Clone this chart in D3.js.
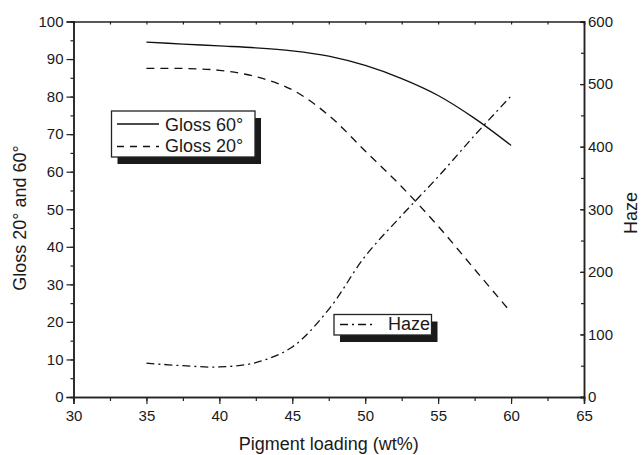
<!DOCTYPE html>
<html>
<head>
<meta charset="utf-8">
<script src="https://cdn.jsdelivr.net/npm/d3@7"></script>
<style>
  html, body { margin: 0; padding: 0; background: #fff; }
  svg { display: block; font-family: "Liberation Sans", Arial, sans-serif; }
  text { fill: #1a1a1a; }
</style>
</head>
<body>
<svg id="chart" width="642" height="455"></svg>
<script>
// ---- data ----
const loading = [35, 37.5, 40, 42.5, 45, 47.5, 50, 52.5, 55, 57.5, 60];
const gloss60 = [94.5, 94.0, 93.5, 93.0, 92.2, 90.8, 88.3, 84.8, 80.3, 74.2, 67.0];
const gloss20 = [87.5, 87.5, 87.0, 85.3, 81.8, 75.0, 65.5, 56.0, 45.5, 34.0, 22.5];
const haze    = [54, 50, 48, 55, 80, 140, 225, 290, 352, 418, 481];
const xTicks = [30, 35, 40, 45, 50, 55, 60, 65];
const yLeftTicks = [0, 10, 20, 30, 40, 50, 60, 70, 80, 90, 100];
const yRightTicks = [0, 100, 200, 300, 400, 500, 600];

const svg = d3.select("#chart");
const L = 73.5, R = 584, T = 21.5, B = 397;

const x = d3.scaleLinear().domain([30, 65]).range([L, R]);
const yL = d3.scaleLinear().domain([0, 100]).range([B, T]);
const yR = d3.scaleLinear().domain([0, 600]).range([B, T]);

const axisColor = "#222";

// minor tick helpers
const xMinor = d3.range(30, 65.01, 2.5);
const yLMinor = d3.range(0, 100.01, 5);
const yRMinor = d3.range(0, 600.01, 50);

// bottom axis
svg.append("g").attr("transform", `translate(0,${B})`)
  .call(d3.axisBottom(x).tickValues(xTicks).tickSize(7).tickPadding(6).tickFormat(d3.format("d")));
svg.append("g").attr("transform", `translate(0,${B})`)
  .call(d3.axisBottom(x).tickValues(xMinor).tickSize(4).tickFormat(""));
// top axis (ticks inward)
svg.append("g").attr("transform", `translate(0,${T})`)
  .call(d3.axisTop(x).tickValues(xMinor).tickSize(-3).tickFormat(""));
// left axis
svg.append("g").attr("transform", `translate(${L},0)`)
  .call(d3.axisLeft(yL).tickValues(yLeftTicks).tickSize(7).tickPadding(3).tickFormat(d3.format("d")));
svg.append("g").attr("transform", `translate(${L},0)`)
  .call(d3.axisLeft(yL).tickValues(yLMinor).tickSize(3).tickFormat(""));
// right axis (ticks inward)
const rightAxis = svg.append("g").attr("transform", `translate(${R},0)`)
  .call(d3.axisRight(yR).tickValues(yRightTicks).tickSize(-4).tickPadding(4).tickFormat(d3.format("d")));
svg.append("g").attr("transform", `translate(${R},0)`)
  .call(d3.axisRight(yR).tickValues(yRMinor).tickSize(-3).tickFormat(""));

svg.selectAll(".domain").attr("stroke", axisColor).attr("stroke-width", 1.5);
svg.selectAll(".tick line").attr("stroke", axisColor).attr("stroke-width", 1.2);
svg.selectAll(".tick text").attr("font-size", 15).attr("fill", "#1a1a1a")
  .attr("font-family", "'Liberation Sans', Arial, sans-serif");
rightAxis.selectAll(".tick text").attr("x", 4);

// axis titles
svg.append("text").attr("x", (L + R) / 2).attr("y", 450).attr("text-anchor", "middle")
  .attr("font-size", 18).text("Pigment loading (wt%)");
svg.append("text").attr("transform", "translate(26,218) rotate(-90)").attr("text-anchor", "middle")
  .attr("font-size", 18).text("Gloss 20° and 60°");
svg.append("text").attr("transform", "translate(637,213) rotate(-90)").attr("text-anchor", "middle")
  .attr("font-size", 18).text("Haze");

// curves
const lineL = d3.line().x((d, i) => x(loading[i])).y(d => yL(d)).curve(d3.curveCatmullRom.alpha(0.5));
const lineR = d3.line().x((d, i) => x(loading[i])).y(d => yR(d)).curve(d3.curveCatmullRom.alpha(0.5));

svg.append("path").attr("d", lineL(gloss60)).attr("fill", "none").attr("stroke", "#111").attr("stroke-width", 1.3);
svg.append("path").attr("d", lineL(gloss20)).attr("fill", "none").attr("stroke", "#111").attr("stroke-width", 1.3)
  .attr("stroke-dasharray", "8,6");
svg.append("path").attr("d", lineR(haze)).attr("fill", "none").attr("stroke", "#111").attr("stroke-width", 1.3)
  .attr("stroke-dasharray", "8,4,2,4");

// legends
function legendBox(bx, by, bw, bh) {
  svg.append("rect").attr("x", bx + 6).attr("y", by + 7).attr("width", bw).attr("height", bh).attr("fill", "#1a1a1a");
  svg.append("rect").attr("x", bx).attr("y", by).attr("width", bw).attr("height", bh)
    .attr("fill", "#fff").attr("stroke", "#222").attr("stroke-width", 1.3);
}
legendBox(111.5, 111, 143.5, 46);
svg.append("line").attr("x1", 117).attr("x2", 159).attr("y1", 124).attr("y2", 124).attr("stroke", "#111").attr("stroke-width", 1.3);
svg.append("text").attr("x", 165).attr("y", 130.5).attr("font-size", 18).text("Gloss 60°");
svg.append("line").attr("x1", 117).attr("x2", 159).attr("y1", 146.5).attr("y2", 146.5).attr("stroke", "#111").attr("stroke-width", 1.3)
  .attr("stroke-dasharray", "7,6");
svg.append("text").attr("x", 165).attr("y", 152).attr("font-size", 18).text("Gloss 20°");

legendBox(334, 314.5, 97.5, 20.5);
svg.append("line").attr("x1", 340).attr("x2", 373).attr("y1", 324.5).attr("y2", 324.5).attr("stroke", "#111").attr("stroke-width", 1.3)
  .attr("stroke-dasharray", "8,4,2,4");
svg.append("text").attr("x", 388).attr("y", 330).attr("font-size", 18).text("Haze");
</script>
</body>
</html>
